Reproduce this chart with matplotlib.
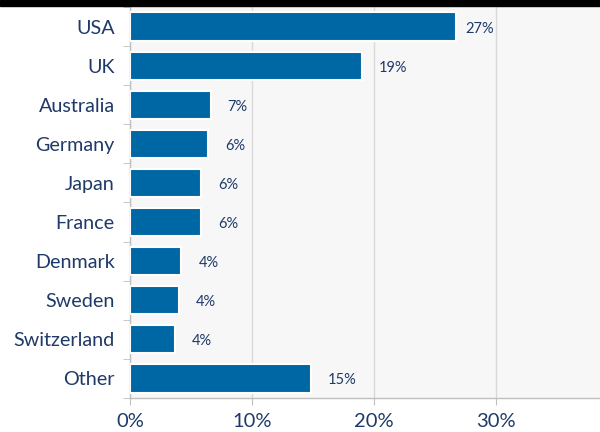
import matplotlib
matplotlib.use("Agg")
import matplotlib.pyplot as plt
import numpy as np
from matplotlib.ticker import FixedLocator, FuncFormatter

categories = ["USA", "UK", "Australia", "Germany", "Japan", "France",
              "Denmark", "Sweden", "Switzerland", "Other"]
values = [26.7, 19.0, 6.6, 6.4, 5.8, 5.8, 4.2, 4.0, 3.7, 14.8]
labels = ["27%", "19%", "7%", "6%", "6%", "6%", "4%", "4%", "4%", "15%"]
xticks = [0, 10, 20, 30]

bar_color = "#0067a5"
text_color = "#1f3a68"

plt.rcParams['font.family'] = ['Lato', 'DejaVu Sans']

fig = plt.figure(figsize=(6, 4.32), dpi=100)
fig.patch.set_facecolor("white")
# black band at top
fig.add_artist(plt.Rectangle((0, 1 - 6/432), 1, 6/432, transform=fig.transFigure,
                             color="black", zorder=10))

ax = fig.add_axes([130/600, 34/432, 470/600, 391/432])
ax.set_facecolor("#f7f7f7")

y = np.arange(len(categories))
ax.barh(y, values, height=0.72, color=bar_color, edgecolor="white", linewidth=1.5, zorder=3)
for i, (yi, v, lab) in enumerate(zip(y, values, labels)):
    gap = 0.75 if i == 0 else 1.4
    ax.text(v + gap, yi + 0.05, lab, va="center", ha="left", fontsize=10.5, color=text_color)

ax.set_ylim(len(categories) - 0.5, -0.5)
ax.set_xlim(0, 38.5)
ax.set_yticks(y)
ax.set_yticklabels(categories, fontsize=14.2, color=text_color)
ax.tick_params(axis="y", length=0, pad=11)
ax.yaxis.set_minor_locator(FixedLocator(np.arange(-0.5, len(categories), 1.0)))
ax.tick_params(axis="y", which="minor", length=5, color="#bfbfbf", direction="out")

ax.set_xticks(xticks)
ax.xaxis.set_major_formatter(FuncFormatter(lambda v, p: f"{int(v)}%"))
ax.tick_params(axis="x", length=5, color="#bfbfbf", labelsize=14.5, labelcolor=text_color, pad=6)
ax.grid(axis="x", color="#d9d9d9", linewidth=1, zorder=0)
ax.set_axisbelow(True)

for s in ["top", "right"]:
    ax.spines[s].set_visible(False)
for s in ["left", "bottom"]:
    ax.spines[s].set_color("#bfbfbf")
    ax.spines[s].set_linewidth(1)

fig.savefig("out.png", dpi=100)
